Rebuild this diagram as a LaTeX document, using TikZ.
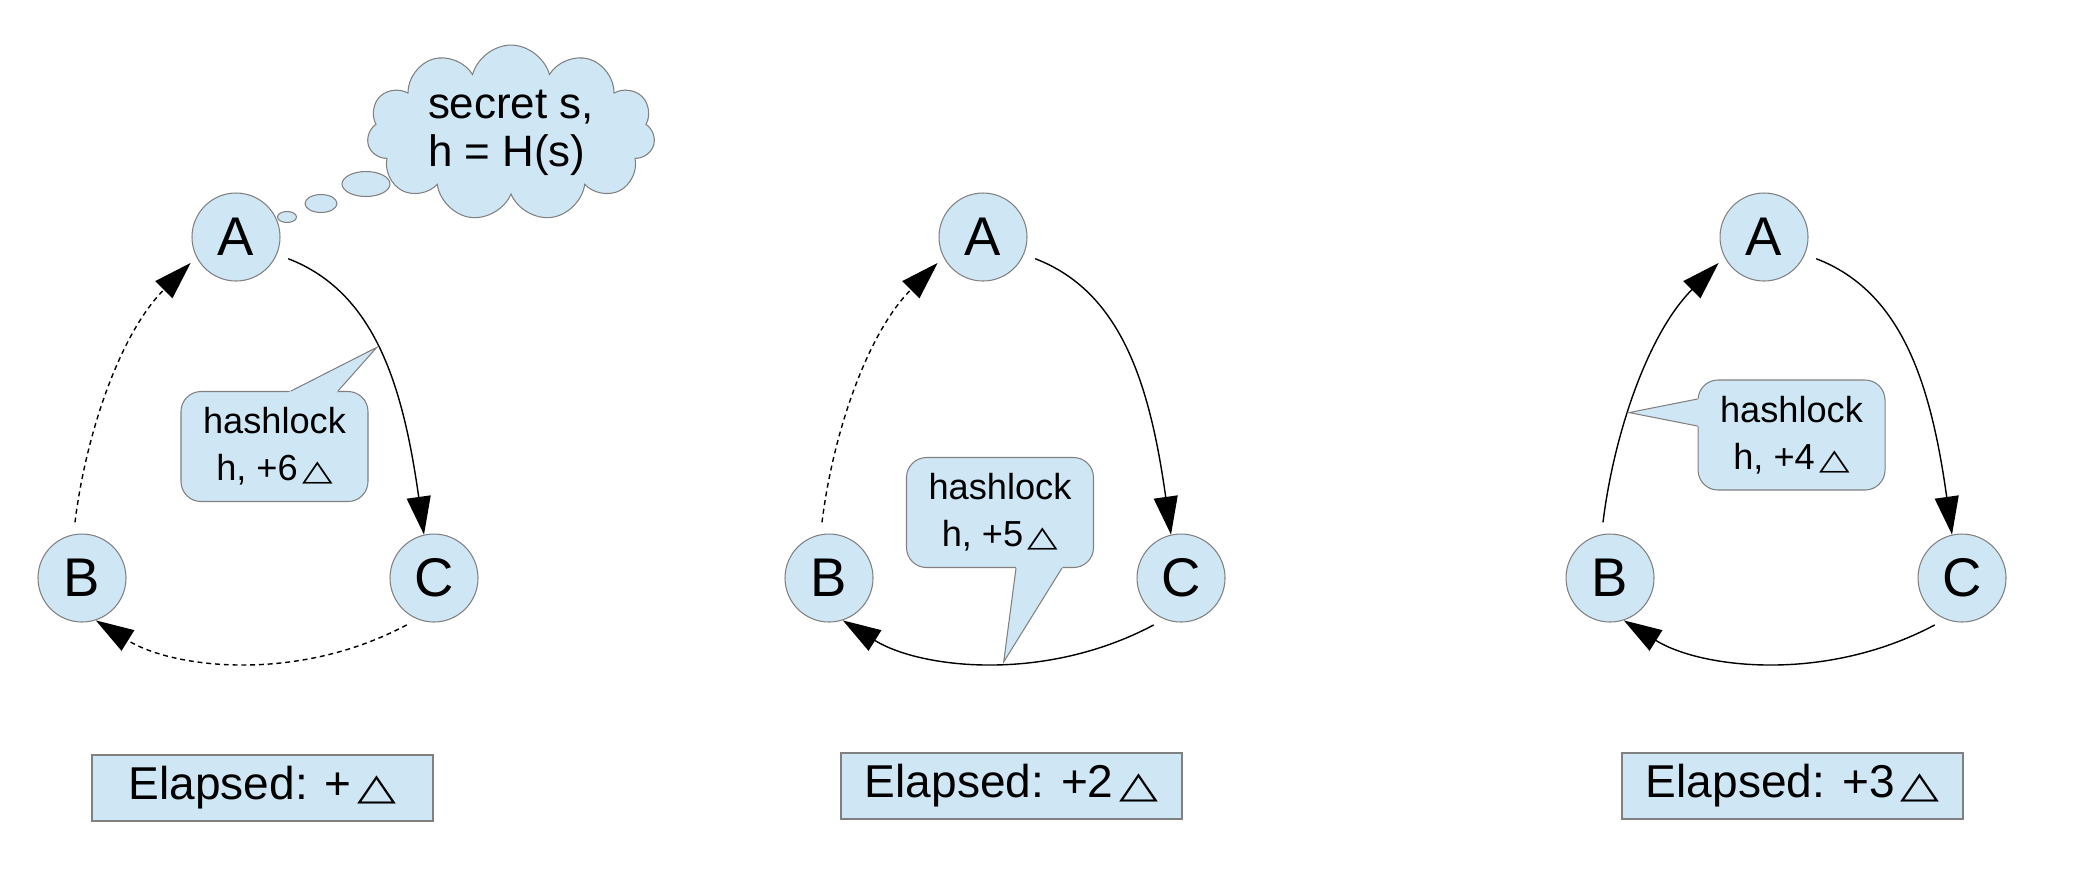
\documentclass[tikz,border=0pt]{standalone}
\usepackage{graphicx}
\usepackage{fontspec}
\setmainfont{Liberation Sans}
\newfontfamily\symfont{DejaVu Sans}
\usetikzlibrary{shapes.geometric, shapes.symbols, arrows.meta, positioning, calc}
\definecolor{paleblue}{RGB}{207,231,245}
\definecolor{edgegray}{RGB}{128,128,128}
\newcommand{\tri}{\hspace{0.12em}{\symfont\scalebox{1.1}[0.8]{△}}}
\tikzstyle{party} = [
  circle,
  minimum size=0.88cm,
  inner sep=0,
  draw=edgegray,
  line width=0.3pt,
  fill=paleblue,
  font=\fontsize{15.5pt}{18pt}\selectfont
]
\tikzstyle{note} = [
  rectangle,
  rounded corners=0.2cm,
  minimum width=1.87cm,
  minimum height=1.1cm,
  inner sep=0,
  align=center,
  draw=edgegray,
  line width=0.3pt,
  fill=paleblue,
  font=\fontsize{10.3pt}{13.4pt}\selectfont
]
\tikzstyle{elapsed} = [
  rectangle,
  minimum width=3.41cm,
  minimum height=0.66cm,
  inner sep=0,
  draw=edgegray,
  line width=0.5pt,
  fill=paleblue,
  font=\fontsize{13.1pt}{15pt}\selectfont
]
\tikzstyle{thought} = [
  cloud,
  cloud puffs=11,
  aspect=1.8,
  minimum width=2.88cm,
  minimum height=1.62cm,
  inner sep=0,
  align=left,
  draw=edgegray,
  line width=0.3pt,
  fill=paleblue,
  font=\fontsize{12.5pt}{13.7pt}\selectfont
]
\tikzstyle{bubble} = [
  ellipse,
  inner sep=0,
  draw=edgegray,
  line width=0.3pt,
  fill=paleblue
]
\tikzstyle{arrow} = [
  line width=0.4pt,
  shorten <=0.12cm,
  -{Triangle[length=0.38cm, width=0.24cm]}
]
\tikzstyle{pending} = [
  arrow,
  dash pattern=on 1.4pt off 1.1pt
]
\tikzstyle{pointer} = [
  draw=edgegray,
  line width=0.3pt
]

\begin{document}
\begin{tikzpicture}[on grid]
      \useasboundingbox (0,0) rectangle (20.82,-8.88);

      % step 1
      \node [party] (A1) at (2.36,-2.37) {A};
      \node [party, below left=3.41cm and 1.54cm of A1] (B1) {B};
      \node [party, below right=3.41cm and 1.98cm of A1] (C1) {C};
      \node [bubble, above right=0.20cm and 0.51cm of A1, minimum width=0.19cm, minimum height=0.11cm] (bub3) {};
      \node [bubble, above right=0.335cm and 0.85cm of A1, minimum width=0.32cm, minimum height=0.18cm] (bub2) {};
      \node [bubble, above right=0.53cm and 1.30cm of A1, minimum width=0.48cm, minimum height=0.25cm] (bub1) {};
      \node [thought, above right=1.04cm and 2.75cm of A1] (secret) {secret s,\\h = H(s)};
      \node [note, below right=2.095cm and 0.385cm of A1] (lock1) {hashlock\\h, +6\tri};
      \node [elapsed, below right=5.51cm and 0.265cm of A1] (time1) {Elapsed: +\tri};

      % step 2
      \node [party, right=7.47cm of A1] (A2) {A};
      \node [party, below left=3.41cm and 1.54cm of A2] (B2) {B};
      \node [party, below right=3.41cm and 1.98cm of A2] (C2) {C};
      \node [note, below right=2.755cm and 0.17cm of A2] (lock2) {hashlock\\h, +5\tri};
      \node [elapsed, below right=5.49cm and 0.285cm of A2] (time2) {Elapsed: +2\tri};

      % step 3
      \node [party, right=7.81cm of A2] (A3) {A};
      \node [party, below left=3.41cm and 1.54cm of A3] (B3) {B};
      \node [party, below right=3.41cm and 1.98cm of A3] (C3) {C};
      \node [note, below right=1.98cm and 0.275cm of A3] (lock3) {hashlock\\h, +4\tri};
      \node [elapsed, below right=5.49cm and 0.285cm of A3] (time3) {Elapsed: +3\tri};

      \draw [arrow] (A1.-23) to[out=-21, in=98, out distance=1.05cm, in distance=1.5cm] coordinate[pos=0.48] (tip1) (C1.103);
      \draw [pending] (C1.-112) to[out=208, in=-32, out distance=1.37cm, in distance=0.9cm] (B1.-72);
      \draw [pending, shorten >=0.08cm] (B1.101) to[out=83, in=225, out distance=1.01cm, in distance=1.08cm] (A1.207);

      \draw [arrow] (A2.-23) to[out=-21, in=98, out distance=1.05cm, in distance=1.5cm] (C2.103);
      \draw [arrow] (C2.-112) to[out=208, in=-32, out distance=1.37cm, in distance=0.9cm] coordinate[pos=0.45] (tip2) (B2.-72);
      \draw [pending, shorten >=0.08cm] (B2.101) to[out=83, in=225, out distance=1.01cm, in distance=1.08cm] (A2.207);

      \draw [arrow] (A3.-23) to[out=-21, in=98, out distance=1.05cm, in distance=1.5cm] (C3.103);
      \draw [arrow] (C3.-112) to[out=208, in=-32, out distance=1.37cm, in distance=0.9cm] (B3.-72);
      \draw [arrow, shorten >=0.08cm] (B3.101) to[out=83, in=225, out distance=1.01cm, in distance=1.08cm] coordinate[pos=0.41] (tip3) (A3.207);

      % callout pointers
      \coordinate (base1a) at ([xshift=0.165cm]lock1.north);
      \coordinate (base1b) at ([xshift=0.635cm]lock1.north);
      \coordinate (base2a) at ([xshift=0.16cm]lock2.south);
      \coordinate (base2b) at ([xshift=0.62cm]lock2.south);
      \coordinate (base3a) at ([yshift=0.36cm]lock3.west);
      \coordinate (base3b) at ([yshift=0.09cm]lock3.west);
      \fill [paleblue] (tip1) -- ($(tip1)!1.15!(base1a)$) -- ($(tip1)!1.15!(base1b)$) -- cycle;
      \draw [pointer] (base1a) -- (tip1) -- (base1b);
      \fill [paleblue] (tip2) -- ($(tip2)!1.15!(base2a)$) -- ($(tip2)!1.15!(base2b)$) -- cycle;
      \draw [pointer] (base2a) -- (tip2) -- (base2b);
      \fill [paleblue] (tip3) -- ($(tip3)!1.15!(base3a)$) -- ($(tip3)!1.15!(base3b)$) -- cycle;
      \draw [pointer] (base3a) -- (tip3) -- (base3b);

    \end{tikzpicture}
\end{document}
